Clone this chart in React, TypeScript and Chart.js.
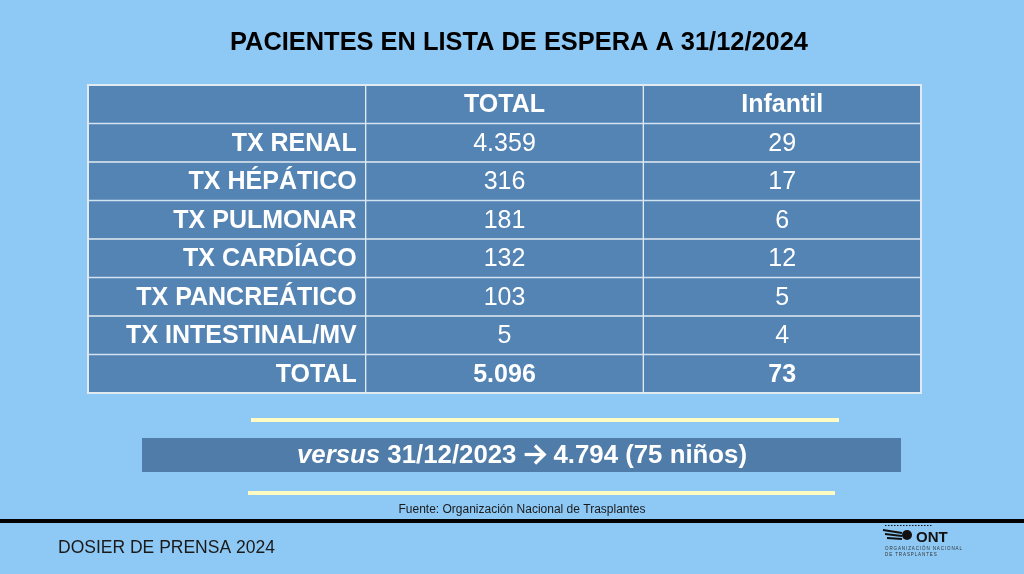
import React, { useEffect, useRef } from "react";
import { Chart, registerables } from "chart.js";
Chart.register(...registerables);

const title = "PACIENTES EN LISTA DE ESPERA A 31/12/2024";
const columnHeaders = ["", "TOTAL", "Infantil"];
const categories = ["TX RENAL", "TX HÉPÁTICO", "TX PULMONAR", "TX CARDÍACO", "TX PANCREÁTICO", "TX INTESTINAL/MV"];
const totalValues = [4359, 316, 181, 132, 103, 5];
const infantilValues = [29, 17, 6, 12, 5, 4];
const totalRowLabel = "TOTAL";
const totalSum = 5096;
const infantilSum = 73;
const versusDate = "31/12/2023";
const versusTotal = 4794;
const versusChildren = 75;
const sourceText = "Fuente: Organización Nacional de Trasplantes";
const footerText = "DOSIER DE PRENSA 2024";

const rowLabels = ["", ...categories, totalRowLabel];

const BG = "#8EC8F4";
const CELL = "#5384B4";
const GRID = "#E2EAF1";
const BOX = "#4F7CA8";
const YELLOW = "#FFFBC2";
const FONT = "'Liberation Sans', Arial, sans-serif";

function fmt(n: number): string {
  return String(n).replace(/\B(?=(\d{3})+(?!\d))/g, ".");
}

function fitText(ctx: CanvasRenderingContext2D, text: string, cx: number, y: number, width: number) {
  const w = ctx.measureText(text).width;
  const s = width / w;
  ctx.save();
  ctx.translate(cx, y);
  ctx.scale(s, 1);
  ctx.textAlign = "center";
  ctx.fillText(text, 0, 0);
  ctx.restore();
}

function spacedText(ctx: CanvasRenderingContext2D, text: string, x: number, y: number, spacing: number) {
  let cx = x;
  for (const ch of text) {
    ctx.fillText(ch, cx, y);
    cx += ctx.measureText(ch).width + spacing;
  }
}

const tablePlugin = {
  id: "tableText",
  beforeDraw(chart: any) {
    const ctx = chart.ctx as CanvasRenderingContext2D;
    ctx.save();
    ctx.fillStyle = BG;
    ctx.fillRect(0, 0, chart.width, chart.height);
    ctx.restore();
  },
  afterDatasetsDraw(chart: any) {
    const ctx = chart.ctx as CanvasRenderingContext2D;
    const x = chart.scales.x;
    const y = chart.scales.y;
    const area = chart.chartArea;
    ctx.save();
    ctx.strokeStyle = GRID;
    ctx.lineWidth = 2;
    ctx.strokeRect(area.left, area.top, area.right - area.left, area.bottom - area.top);

    ctx.fillStyle = "#FFFFFF";
    ctx.textBaseline = "middle";
    const c1 = x.getPixelForValue(1.5);
    const c2 = x.getPixelForValue(2.5);
    const labelRight = x.getPixelForValue(1) - 9;
    rowLabels.forEach((lab, i) => {
      const yc = y.getPixelForValue(i) + 1;
      if (i === 0) {
        ctx.font = `bold 25px ${FONT}`;
        ctx.textAlign = "center";
        ctx.fillText(columnHeaders[1], c1, yc);
        ctx.fillText(columnHeaders[2], c2, yc);
        return;
      }
      ctx.font = `bold 25px ${FONT}`;
      ctx.textAlign = "right";
      ctx.fillText(lab, labelRight, yc);
      ctx.textAlign = "center";
      if (i === rowLabels.length - 1) {
        ctx.font = `bold 25px ${FONT}`;
        ctx.fillText(fmt(totalSum), c1, yc);
        ctx.fillText(fmt(infantilSum), c2, yc);
      } else {
        ctx.font = `25px ${FONT}`;
        ctx.fillText(fmt(totalValues[i - 1]), c1, yc);
        ctx.fillText(fmt(infantilValues[i - 1]), c2, yc);
      }
    });
    ctx.restore();
  },
  afterDraw(chart: any) {
    const ctx = chart.ctx as CanvasRenderingContext2D;
    ctx.save();
    // title
    ctx.fillStyle = "#000000";
    ctx.textBaseline = "alphabetic";
    ctx.font = `bold 25px ${FONT}`;
    fitText(ctx, title, 519, 50, 578);

    // yellow lines
    ctx.fillStyle = YELLOW;
    ctx.fillRect(251, 418, 588, 4);
    ctx.fillRect(248, 491, 587, 4);

    // versus box
    ctx.fillStyle = BOX;
    ctx.fillRect(142, 438, 759, 34);
    ctx.fillStyle = "#FFFFFF";
    ctx.strokeStyle = "#FFFFFF";
    const part1 = "versus";
    const part2 = ` ${versusDate} `;
    const part3 = ` ${fmt(versusTotal)} (${versusChildren} niños)`;
    const fs = 25;
    ctx.font = `italic bold ${fs}px ${FONT}`;
    const w1 = ctx.measureText(part1).width;
    ctx.font = `bold ${fs}px ${FONT}`;
    const w2 = ctx.measureText(part2).width;
    const w3 = ctx.measureText(part3).width;
    const arrowW = 22;
    const total = w1 + w2 + arrowW + w3;
    const sx = 450 / total;
    ctx.translate(297, 0);
    ctx.scale(sx, 1);
    ctx.textAlign = "left";
    ctx.textBaseline = "middle";
    const ty = 456;
    ctx.font = `italic bold ${fs}px ${FONT}`;
    ctx.fillText(part1, 0, ty);
    ctx.font = `bold ${fs}px ${FONT}`;
    ctx.fillText(part2, w1, ty);
    const ax = w1 + w2;
    const ay = 454.5;
    ctx.lineWidth = 3.2;
    ctx.lineCap = "butt";
    ctx.lineJoin = "miter";
    ctx.beginPath();
    ctx.moveTo(ax + 1, ay);
    ctx.lineTo(ax + arrowW - 2, ay);
    ctx.stroke();
    ctx.beginPath();
    ctx.moveTo(ax + arrowW - 11, ay - 9);
    ctx.lineTo(ax + arrowW - 2, ay);
    ctx.lineTo(ax + arrowW - 11, ay + 9);
    ctx.stroke();
    ctx.fillText(part3, ax + arrowW, ty);
    ctx.setTransform(1, 0, 0, 1, 0, 0);

    // source
    ctx.fillStyle = "#1a1a1a";
    ctx.font = `12px ${FONT}`;
    ctx.textAlign = "center";
    ctx.textBaseline = "middle";
    ctx.fillText(sourceText, 522, 510);

    // black rule
    ctx.fillStyle = "#000000";
    ctx.fillRect(0, 519, chart.width, 4);

    // footer
    ctx.fillStyle = "#1a1a1a";
    ctx.font = `17.5px ${FONT}`;
    ctx.textAlign = "left";
    ctx.textBaseline = "alphabetic";
    ctx.fillText(footerText, 58, 552.5);

    // logo
    ctx.fillStyle = "#111111";
    ctx.font = `bold 15px ${FONT}`;
    ctx.fillText("ONT", 916, 542);
    ctx.beginPath();
    ctx.arc(907, 535, 5, 0, Math.PI * 2);
    ctx.fill();
    ctx.strokeStyle = "#111111";
    ctx.lineWidth = 2;
    for (let k = 0; k < 3; k++) {
      ctx.beginPath();
      ctx.moveTo(883 + k * 2, 530 + k * 4);
      ctx.lineTo(902, 533 + k * 3);
      ctx.stroke();
    }
    ctx.lineWidth = 1;
    ctx.setLineDash([1.5, 1.5]);
    ctx.beginPath();
    ctx.moveTo(885, 525.5);
    ctx.lineTo(932, 525.5);
    ctx.stroke();
    ctx.setLineDash([]);
    ctx.fillStyle = "#333333";
    ctx.font = `4.5px ${FONT}`;
    spacedText(ctx, "ORGANIZACIÓN NACIONAL", 885, 550, 0.9);
    spacedText(ctx, "DE TRASPLANTES", 885, 556, 0.9);
    ctx.restore();
  },
};

export default function App() {
  const ref = useRef<HTMLCanvasElement | null>(null);
  useEffect(() => {
    if (!ref.current) return;
    const datasets = [0, 1, 2].map((c) => ({
      label: columnHeaders[c] || "Concepto",
      data: rowLabels.map(() => [c, c + 1]),
      backgroundColor: CELL,
      borderColor: GRID,
      borderWidth: 1,
      borderSkipped: false,
      grouped: false,
      barPercentage: 1,
      categoryPercentage: 1,
    }));
    const chart = new Chart(ref.current, {
      type: "bar",
      data: { labels: rowLabels, datasets: datasets as any },
      options: {
        indexAxis: "y",
        animation: false,
        responsive: false,
        devicePixelRatio: 1,
        layout: { padding: { left: 88, right: 103, top: 85, bottom: 181 } },
        scales: {
          x: { type: "linear", min: 0, max: 3, display: false },
          y: { type: "category", display: false },
        },
        plugins: { legend: { display: false }, tooltip: { enabled: false }, title: { display: false } },
      },
      plugins: [tablePlugin],
    });
    return () => chart.destroy();
  }, []);
  return (
    <div style={{ position: "fixed", left: 0, top: 0, width: 1024, height: 574 }}>
      <canvas ref={ref} width={1024} height={574} style={{ display: "block" }} />
    </div>
  );
}
